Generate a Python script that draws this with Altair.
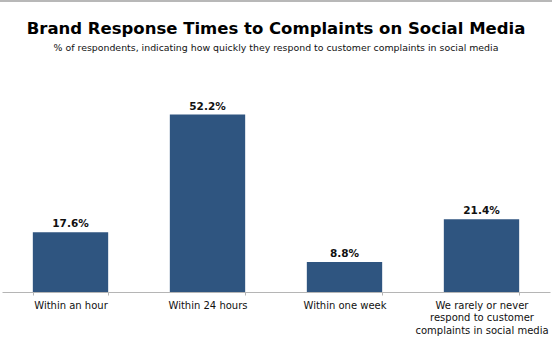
import altair as alt
import pandas as pd

categories = ["Within an hour", "Within 24 hours", "Within one week",
              "We rarely or never|respond to customer|complaints in social media"]
values = [17.6, 52.2, 8.8, 21.4]
value_labels = ["17.6%", "52.2%", "8.8%", "21.4%"]

df = pd.DataFrame({"cat": categories, "val": values, "lab": value_labels})

FONT = "DejaVu Sans"

x = alt.X("cat:N", sort=categories,
          scale=alt.Scale(paddingInner=0.45, paddingOuter=0.225),
          axis=alt.Axis(title=None, labelAngle=0, labelExpr="split(datum.label, '|')",
                        labelFont=FONT, labelFontSize=10, labelColor="#111111",
                        labelLineHeight=12.5, labelPadding=5, labelBaseline="top",
                        domainColor="#b5b5b5", tickColor="#b5b5b5", tickSize=3,
                        tickBand="extent", labelLimit=200))
y = alt.Y("val:Q", scale=alt.Scale(domain=[0, 60], nice=False), axis=None)

bars = alt.Chart(df).mark_bar(color="#2f5580").encode(x=x, y=y)
text = alt.Chart(df).mark_text(dy=-8, font=FONT, fontSize=10.5, fontWeight="bold",
                               color="#111111").encode(x=x, y=y, text="lab:N")
border = alt.Chart(df).mark_rule(color="#b8b8b8", strokeWidth=2).encode(
    x=alt.value(-2), x2=alt.value(550), y=alt.value(-87))

chart = (bars + text + border).properties(
    width=548, height=204,
    autosize=alt.AutoSizeParams(type="none"),
    padding={"left": 2, "top": 88, "right": 2, "bottom": 47},
    title=alt.TitleParams(
        "Brand Response Times to Complaints on Social Media",
        subtitle="% of respondents, indicating how quickly they respond to customer complaints in social media",
        font=FONT, fontSize=16.5, fontWeight="bold", color="#000000",
        subtitleFont=FONT, subtitleFontSize=9.4, subtitleColor="#111111",
        subtitlePadding=6, anchor="middle", offset=-52, frame="group"),
).configure(background="white").configure_view(strokeWidth=0, stroke=None)

chart.save("out.html", embed_options={"renderer": "svg", "actions": False})
